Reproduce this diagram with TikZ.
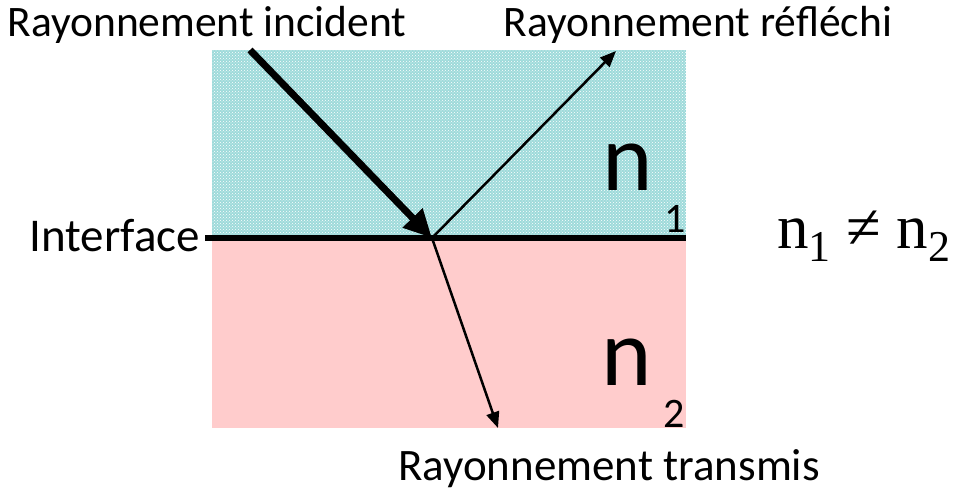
\documentclass[tikz,border=0pt]{standalone}
\usepackage{fontspec}
\setmainfont{Carlito}
\newfontfamily\serifnum{Liberation Serif}
\usetikzlibrary{arrows.meta,patterns}

\definecolor{milieuun}{RGB}{158,218,218}
\definecolor{milieudeux}{RGB}{255,204,204}

\tikzset{
  label/.style={font=\fontsize{43.5}{45}\selectfont,anchor=base,inner sep=0pt},
  indice/.style={font=\fontsize{96}{96}\selectfont,anchor=base,inner sep=0pt},
  petit/.style={font=\fontsize{42}{42}\selectfont,anchor=base,inner sep=0pt},
  rayon/.style={line width=2.5pt,-{Triangle[length=16pt,width=13pt]}}
}

\begin{document}
\begin{tikzpicture}[x=1pt,y=-1pt]
\useasboundingbox (0,0) rectangle (953,492);

% les deux milieux
\fill[milieuun] (212,50) rectangle (686,238);
\fill[pattern=crosshatch dots,pattern color=white] (212,50) rectangle (686,238);
\fill[milieudeux] (212,238) rectangle (686,428);

% interface
\coordinate (O) at (432,238);
\coordinate (G) at (205,238);
\coordinate (D) at (686,238);
\draw[line width=6pt] (G) -- (D);

\coordinate (I) at (250,50);
\coordinate (R) at (616,51);
\coordinate (T) at (498,428);

\draw[line width=7pt,-{Triangle[length=28pt,width=26pt]}] (I) -- (O);
\draw[rayon] (O) -- (R);
\draw[rayon] (O) -- (T);

\node[label] (inc) at (207,37) {Rayonnement incident};
\node[label] (ref) at (698,37) {Rayonnement réfléchi};
\node[label,font=\fontsize{45}{46}\selectfont] (tra) at (609,480) {Rayonnement transmis};
\node[label,anchor=base east,font=\fontsize{47}{48}\selectfont] (int) at (200,251) {Interface};

\node[indice] (n1) at (628,190) {n};
\node[petit] (u1) at (675,232) {1};
\node[indice] (n2) at (627,385) {n};
\node[petit] (u2) at (674,427) {2};

\node[anchor=base west,inner sep=0pt,font=\serifnum\fontsize{63}{63}\selectfont] (eq) at (777,248)
  {n\raisebox{-0.22em}{\fontsize{44}{44}\selectfont 1} ≠ n\raisebox{-0.22em}{\fontsize{44}{44}\selectfont 2}};
\end{tikzpicture}
\end{document}
